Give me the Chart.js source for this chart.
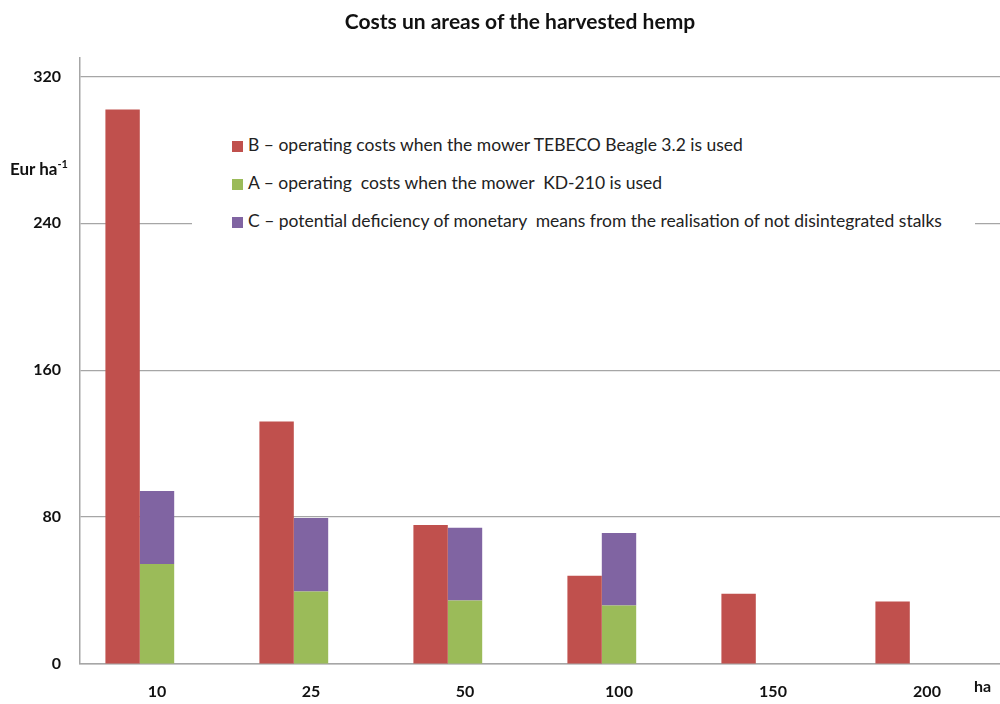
<!DOCTYPE html>
<html>
<head>
<meta charset="utf-8">
<script src="https://cdn.jsdelivr.net/npm/chart.js"></script>
<style>
	body { margin: 0; overflow: hidden; background: #fff; font-family: 'Lato', sans-serif; }
	.wrap { position: relative; width: 1004px; height: 704px; }
	.chart-title {
		position: absolute; left: 0; top: 8px; width: 1040px;
		text-align: center; font-weight: bold; font-size: 21px; color: #111;
	}
	.y-title { position: absolute; left: 10px; top: 157px; font-weight: bold; font-size: 17px; color: #111; }
	.y-title sup { font-size: 11px; }
	.x-unit { position: absolute; left: 974px; top: 676px; font-weight: bold; font-size: 16px; color: #111; }
	#legend {
		position: absolute; left: 192px; top: 126px; width: 783px; height: 114px;
		background: #fff;
	}
	#legend ul { list-style: none; margin: 0; padding: 0 0 0 40px; }
	#legend li { height: 38px; line-height: 38px; font-size: 17.5px; color: #222; white-space: pre; }
	#legend .box { display: inline-block; width: 11px; height: 11px; margin-right: 5px; vertical-align: -1px; }
</style>
</head>
<body>
<div class="wrap">
	<canvas id="hempChart" width="1004" height="704"></canvas>
	<div class="chart-title">Costs un areas of the harvested hemp</div>
	<div class="y-title">Eur ha<sup>-1</sup></div>
	<div class="x-unit">ha</div>
	<div id="legend"></div>
</div>
<script>
	// harvested area, ha
	const areas = ['10', '25', '50', '100', '150', '200'];
	// Eur per ha
	const costsB = [302, 132, 75.7, 48, 38.3, 34];
	const costsA = [54.5, 39.5, 34.6, 31.8, null, null];
	const deficiencyC = [39.7, 40, 39.6, 39.5, null, null];
	const yTicks = [0, 80, 160, 240, 320];

	const labelB = 'B \u2013 operating costs when the mower TEBECO Beagle 3.2 is used';
	const labelA = 'A \u2013 operating  costs when the mower  KD-210 is used';
	const labelC = 'C \u2013 potential deficiency of monetary  means from the realisation of not disintegrated stalks';

	// html legend, built from the datasets
	const htmlLegend = {
		id: 'htmlLegend',
		afterUpdate(chart) {
			const el = document.getElementById('legend');
			el.innerHTML = '';
			const ul = document.createElement('ul');
			chart.data.datasets.forEach(ds => {
				if (!ds.label) return;
				const li = document.createElement('li');
				const box = document.createElement('span');
				box.className = 'box';
				box.style.background = ds.backgroundColor;
				li.appendChild(box);
				li.appendChild(document.createTextNode(ds.label));
				ul.appendChild(li);
			});
			el.appendChild(ul);
		}
	};

	new Chart(document.getElementById('hempChart'), {
		type: 'bar',
		data: {
			labels: areas,
			datasets: [
				{ label: labelB, data: costsB, backgroundColor: '#C0504D', stack: 'b' },
				{ label: labelA, data: costsA, backgroundColor: '#9BBB59', stack: 'ac' },
				{ label: labelC, data: deficiencyC, backgroundColor: '#8064A2', stack: 'ac' },
				// empty slot so the bars sit left of the category label, like the original
				{ label: '', data: areas.map(() => null), backgroundColor: 'transparent', stack: 'pad' }
			]
		},
		options: {
			responsive: false,
			devicePixelRatio: 1,
			animation: false,
			categoryPercentage: 0.67,
			barPercentage: 1,
			layout: { padding: { top: 58, left: 0, right: 0, bottom: 0 } },
			plugins: {
				legend: { display: false },
				tooltip: { enabled: false }
			},
			scales: {
				x: {
					stacked: true,
					grid: { display: false },
					border: { color: '#a6a6a6', width: 1.5 },
					ticks: { color: '#111', padding: 10, font: { family: 'Lato', size: 16, weight: 'bold' } },
					afterFit: (s) => { s.height = 40; }
				},
				y: {
					stacked: true,
					min: 0,
					max: 330,
					grid: { color: '#a6a6a6', lineWidth: 1.2, drawTicks: false },
					border: { color: '#a6a6a6', width: 1.5 },
					ticks: { color: '#111', padding: 19, font: { family: 'Lato', size: 16, weight: 'bold' } },
					afterBuildTicks: (s) => { s.ticks = yTicks.map(v => ({ value: v })); },
					afterFit: (s) => { s.width = 80; }
				}
			}
		},
		plugins: [htmlLegend]
	});
</script>
</body>
</html>
